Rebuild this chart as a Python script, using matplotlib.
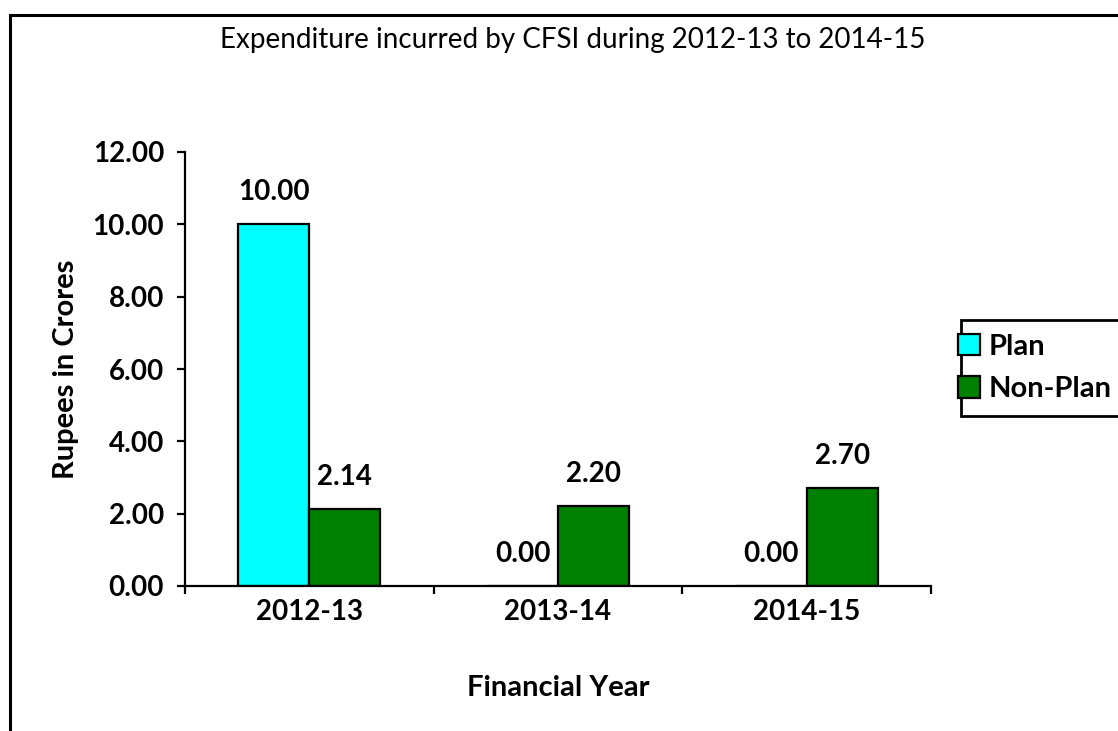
import matplotlib
matplotlib.use("Agg")
import matplotlib.pyplot as plt
import numpy as np
from matplotlib.lines import Line2D
from matplotlib.patches import Rectangle

plt.rcParams['font.family'] = ['Lato', 'DejaVu Sans']

years = ['2012-13', '2013-14', '2014-15']
plan = [10.00, 0.00, 0.00]
non_plan = [2.14, 2.20, 2.70]
yticks = [0, 2, 4, 6, 8, 10, 12]

W, H = 1118, 731
fig = plt.figure(figsize=(W / 100, H / 100), dpi=100)
ax = fig.add_axes([185 / W, 1 - 586 / H, (931 - 185) / W, (586 - 152) / H])

x = np.arange(len(years))
bw = 0.285
b1 = ax.bar(x - bw / 2, plan, bw, color='#00FFFF', edgecolor='black', linewidth=1.6, label='Plan')
b2 = ax.bar(x + bw / 2, non_plan, bw, color='#008000', edgecolor='black', linewidth=1.6, label='Non-Plan')

for bars in (b1, b2):
    for r in bars:
        ax.annotate('%.2f' % r.get_height(), (r.get_x() + r.get_width() / 2, r.get_height()),
                    xytext=(0, 23), textcoords='offset points', ha='center', va='center',
                    fontsize=20, fontweight='bold')

ax.set_xlim(-0.5, 2.5)
ax.set_ylim(0, 12)
ax.set_yticks(yticks)
ax.set_yticklabels(['%.2f' % v for v in yticks], fontsize=20, fontweight='bold')
ax.set_xticks([-0.5, 0.5, 1.5, 2.5])
ax.set_xticklabels([])
ax.set_xticks(x, minor=True)
ax.set_xticklabels(years, minor=True, fontsize=20, fontweight='bold')
ax.tick_params(axis='x', which='minor', length=0, pad=9)
ax.tick_params(axis='x', which='major', direction='out', length=6, width=1.6)
ax.tick_params(axis='y', direction='out', length=6, width=1.6, pad=9)
for s in ['top', 'right']:
    ax.spines[s].set_visible(False)
for s in ['left', 'bottom']:
    ax.spines[s].set_linewidth(1.6)

ax.set_xlabel('Financial Year', fontsize=21, fontweight='bold', labelpad=36)
ax.set_ylabel('Rupees in Crores', fontsize=21, fontweight='bold', labelpad=10)

fig.text(573 / W, 1 - 40 / H, 'Expenditure incurred by CFSI during 2012-13 to 2014-15',
         ha='center', va='center', fontsize=20)

# outer chart border (right and bottom fall outside the picture)
fig.add_artist(Line2D([10 / W, 10 / W], [0, 1 - 15 / H], color='black', lw=2.2))
fig.add_artist(Line2D([10 / W, 1], [1 - 15 / H, 1 - 15 / H], color='black', lw=2.2))

# legend box, cut off by the right edge like the original
fig.add_artist(Rectangle((961 / W, 1 - 416 / H), 200 / W, 96 / H, transform=fig.transFigure,
                         facecolor='white', edgecolor='black', lw=2))
leg = fig.legend(handles=[b1, b2], loc='center left', bbox_to_anchor=(958 / W, 1 - 368 / H),
                 frameon=False, borderaxespad=0, borderpad=0,
                 prop={'size': 21, 'weight': 'bold'}, handlelength=0.75, handleheight=0.75,
                 handletextpad=0.3, labelspacing=0.55)

fig.savefig('out.png', dpi=100)
